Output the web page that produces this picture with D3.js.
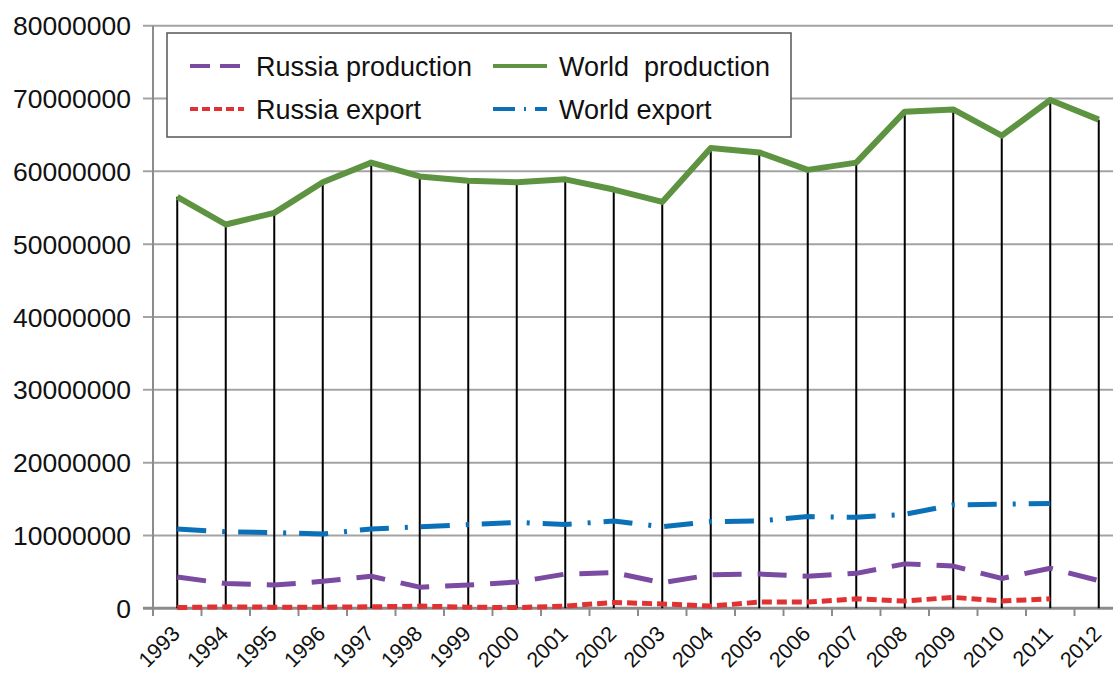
<!DOCTYPE html>
<html>
<head>
<meta charset="utf-8">
<script src="https://cdn.jsdelivr.net/npm/d3@7"></script>
<style>
  body { margin: 0; background: #fff; }
  text { font-family: "Liberation Sans", Arial, sans-serif; fill: #111; }
</style>
</head>
<body>
<svg id="chart" width="1113" height="675"></svg>
<script>
// data
var years = ["1993","1994","1995","1996","1997","1998","1999","2000","2001","2002",
             "2003","2004","2005","2006","2007","2008","2009","2010","2011","2012"];
var worldProduction = [56.5,52.7,54.3,58.5,61.2,59.3,58.7,58.5,58.9,57.5,
                       55.8,63.2,62.6,60.2,61.2,68.2,68.5,64.9,69.8,67.1].map(v => v * 1e6);
var worldExport = [10.9,10.5,10.4,10.2,10.9,11.2,11.5,11.8,11.5,12.0,
                   11.2,11.9,12.0,12.6,12.5,12.9,14.2,14.3,14.4,null].map(v => v == null ? null : v * 1e6);
var russiaProduction = [4.3,3.4,3.2,3.7,4.4,2.9,3.2,3.6,4.7,4.9,
                        3.5,4.6,4.7,4.4,4.8,6.1,5.8,4.1,5.5,3.8].map(v => v * 1e6);
var russiaExport = [0.1,0.2,0.15,0.15,0.2,0.3,0.15,0.1,0.3,0.8,
                    0.6,0.3,0.85,0.85,1.3,1.0,1.5,1.0,1.3,null].map(v => v == null ? null : v * 1e6);
var yTicks = [0,10000000,20000000,30000000,40000000,50000000,60000000,70000000,80000000];

var svg = d3.select("#chart");

const x = d3.scaleBand().domain(years).range([153, 1123]).padding(0);
const y = d3.scaleLinear().domain([0, 80000000]).range([608.3, 25.7]);
const xc = d => x(d) + x.bandwidth() / 2;

// gridlines
svg.append("g").selectAll("line")
    .data(yTicks.filter(d => d > 0))
    .enter().append("line")
    .attr("x1", 143).attr("x2", 1123)
    .attr("y1", d => y(d)).attr("y2", d => y(d))
    .attr("stroke", "#a3a3a3").attr("stroke-width", 2);

// y axis
svg.append("line")
    .attr("x1", 153).attr("x2", 153).attr("y1", y(80000000)).attr("y2", 615)
    .attr("stroke", "#8c8c8c").attr("stroke-width", 2);
svg.append("g").selectAll("text")
    .data(yTicks)
    .enter().append("text")
    .attr("x", 131).attr("y", d => y(d))
    .attr("dy", "0.36em")
    .attr("text-anchor", "end")
    .style("font-size", "26.5px")
    .text(d => d3.format("d")(d));

// x axis
svg.append("line")
    .attr("x1", 143).attr("x2", 1123).attr("y1", y(0)).attr("y2", y(0))
    .attr("stroke", "#8c8c8c").attr("stroke-width", 3);
svg.append("g").selectAll("line")
    .data(years)
    .enter().append("line")
    .attr("x1", d => x(d)).attr("x2", d => x(d))
    .attr("y1", y(0)).attr("y2", 616)
    .attr("stroke", "#8c8c8c").attr("stroke-width", 2);
svg.append("g").selectAll("text")
    .data(years)
    .enter().append("text")
    .attr("text-anchor", "end")
    .attr("transform", d => `translate(${xc(d) + 4},${635}) rotate(-45)`)
    .style("font-size", "21.5px")
    .text(d => d);

// drop lines from the top point down to the axis
svg.append("g").selectAll("line")
    .data(years)
    .enter().append("line")
    .attr("x1", d => xc(d)).attr("x2", d => xc(d))
    .attr("y1", (d, i) => y(worldProduction[i])).attr("y2", y(0))
    .attr("stroke", "#000").attr("stroke-width", 2);

// series
var series = [
    { name: "Russia production", values: russiaProduction, color: "#7a4ba1", width: 5, dash: "29,16" },
    { name: "World  production", values: worldProduction, color: "#5e9341", width: 6, dash: null },
    { name: "Russia export", values: russiaExport, color: "#e03232", width: 5, dash: "10,5" },
    { name: "World export", values: worldExport, color: "#0a71b9", width: 5, dash: "29,16,3,13" }
];

const line = d3.line()
    .defined(d => d[1] != null)
    .x(d => xc(d[0]))
    .y(d => y(d[1]));

svg.append("g").selectAll("path")
    .data([series[3], series[0], series[2], series[1]])
    .enter().append("path")
    .attr("fill", "none")
    .attr("stroke", d => d.color)
    .attr("stroke-width", d => d.width)
    .attr("stroke-dasharray", d => d.dash)
    .attr("stroke-linejoin", "round")
    .attr("d", d => line(years.map((yr, i) => [yr, d.values[i]])));

// legend
var legend = svg.append("g");
legend.append("rect")
    .attr("x", 167).attr("y", 33).attr("width", 624).attr("height", 104)
    .attr("fill", "#fff").attr("stroke", "#555").attr("stroke-width", 1.5);

var legendDash = ["20,10", null, "8,4", "22,9,2,9"];
var legendPos = [[190, 66], [493, 66], [190, 109], [493, 109]];
series.forEach(function (s, i) {
    var p = legendPos[i];
    legend.append("line")
        .attr("x1", p[0]).attr("x2", p[0] + 54)
        .attr("y1", p[1]).attr("y2", p[1])
        .attr("stroke", s.color).attr("stroke-width", 4)
        .attr("stroke-dasharray", legendDash[i]);
    legend.append("text")
        .attr("x", p[0] + 66).attr("y", p[1])
        .attr("dy", "0.36em")
        .style("font-size", "27px")
        .attr("xml:space", "preserve")
        .text(s.name);
});
</script>
</body>
</html>
